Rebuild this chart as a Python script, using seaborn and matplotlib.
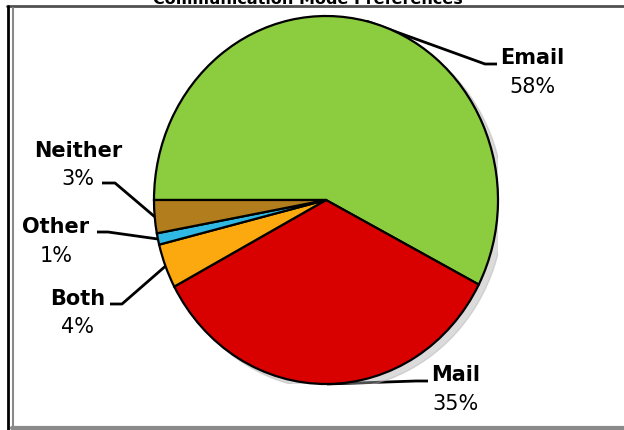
import numpy as np
import matplotlib
matplotlib.use('Agg')
import matplotlib.pyplot as plt
import seaborn as sns
from matplotlib.patches import Ellipse

# data
categories = ['Email', 'Mail', 'Both', 'Other', 'Neither']
shares = [57.6, 34.6, 3.9, 1.0, 2.9]
colors = ['#8ccd3f', '#d90000', '#fba90f', '#2fb8e4', '#b27d1c']
title = 'Communication Mode Preferences'

sns.set_theme(style='white')
plt.rcParams['font.family'] = ['DejaVu Sans']

W, H = 624, 430
fig = plt.figure(figsize=(W / 100, H / 100), dpi=100)

# background axes in pixel coordinates (y down)
bg = fig.add_axes([0, 0, 1, 1])
bg.set_xlim(0, W)
bg.set_ylim(H, 0)
bg.axis('off')

# frame lines
bg.plot([7, W], [6, 6], color='#505050', lw=2)
bg.plot([8, 8], [6, H], color='black', lw=2)
bg.plot([12.5, 12.5], [8, 427], color='#8a8a8a', lw=1.5)
bg.plot([12, W], [427.5, 427.5], color='#8a8a8a', lw=3)

bg.text(308, 3.5, title, ha='center', va='baseline', fontsize=11.5,
        fontweight='bold', color='black')

# pie axes, elliptical pie
cx, cy, rx, ry = 326, 200, 172, 184
ax = fig.add_axes([(cx - rx) / W, 1 - (cy + ry) / H, 2 * rx / W, 2 * ry / H])
ax.add_patch(Ellipse((0.035, -0.03), 2.0, 2.0, color='#b0b0b0', alpha=0.45, zorder=0))
wedges, _ = ax.pie(shares, colors=sns.color_palette(colors), startangle=180,
                   counterclock=False, radius=1,
                   wedgeprops=dict(edgecolor='black', linewidth=1.6))
ax.set_aspect('auto')
ax.set_xlim(-1, 1)
ax.set_ylim(-1, 1)
ax.axis('off')

# label layout: name baseline, pct baseline, text x, line anchor, elbow
layout = {
    'Email':   dict(x=532, yn=64, yp=93, anchor=(497, 64), elbow=(485, 64)),
    'Mail':    dict(x=456, yn=381, yp=410, anchor=(428, 381), elbow=(416, 381)),
    'Both':    dict(x=78, yn=305, yp=333, anchor=(110, 304), elbow=(122, 304)),
    'Other':   dict(x=56, yn=233, yp=262, anchor=(97, 232), elbow=(108, 232)),
    'Neither': dict(x=78, yn=157, yp=185, anchor=(102, 183), elbow=(115, 183)),
}

to_bg = ax.transData + bg.transData.inverted()
for w, name, val in zip(wedges, categories, shares):
    mid = np.deg2rad((w.theta1 + w.theta2) / 2)
    ex, ey = to_bg.transform((np.cos(mid), np.sin(mid)))
    L = layout[name]
    bg.plot([L['anchor'][0], L['elbow'][0], ex], [L['anchor'][1], L['elbow'][1], ey],
            color='black', lw=2, solid_capstyle='butt', zorder=5)
    bg.text(L['x'], L['yn'], name, ha='center', va='baseline', fontsize=15,
            fontweight='bold', color='black')
    bg.text(L['x'], L['yp'], f'{val:.0f}%', ha='center', va='baseline',
            fontsize=15, color='black')

fig.savefig('out.png', dpi=100)
